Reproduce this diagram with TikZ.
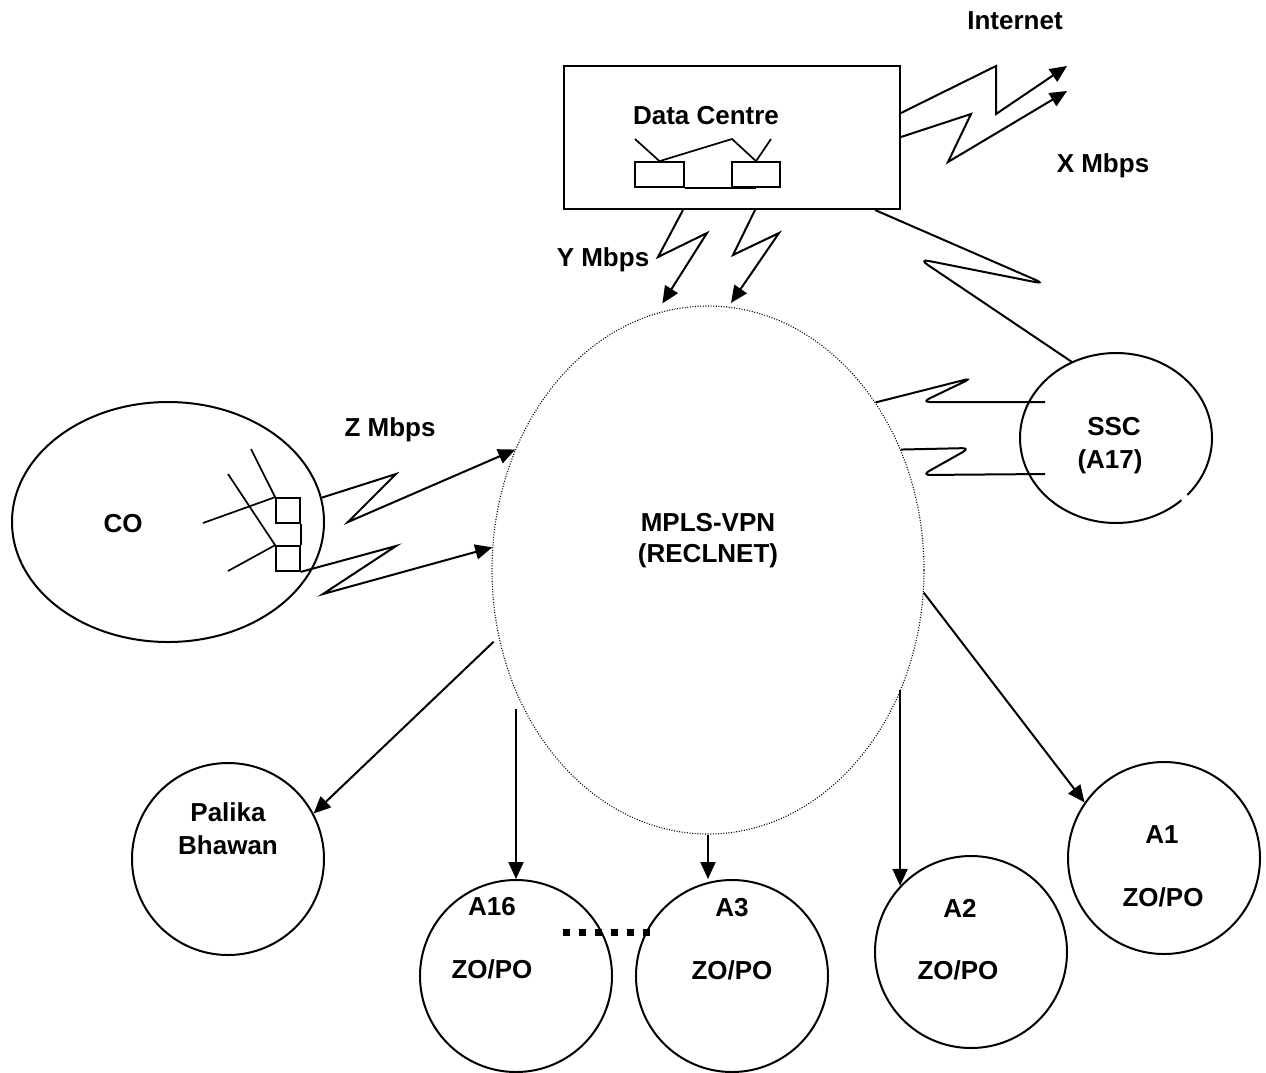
\documentclass[tikz,border=0pt]{standalone}
\usepackage{fontspec}
\setmainfont{Liberation Sans}
\usetikzlibrary{arrows.meta,shapes.geometric}
\begin{document}
\begin{tikzpicture}[x=1pt,y=-1pt,
  lbl/.style={font=\fontsize{26}{30}\selectfont\bfseries, inner sep=0pt},
  ln/.style={line width=2pt, line join=miter},
  thin/.style={line width=1.7pt},
  arr/.style={ln, -{Triangle[length=17pt,width=15pt]}},
  site/.style={circle, draw, line width=2pt, minimum size=192pt, inner sep=0pt},
  cloud/.style={ellipse, draw, dash pattern=on 1pt off 1.6pt, line width=1.1pt, inner sep=0pt},
  box/.style={rectangle, draw, inner sep=0pt}]
\useasboundingbox (0,0) rectangle (1266,1072);

% main shapes
\node[box, line width=2pt, minimum width=336pt, minimum height=143pt] (dc) at (732,137.5) {};
\node[cloud, minimum width=432pt, minimum height=528pt] (mpls) at (708,570) {};
\node[ellipse, draw, line width=2pt, minimum width=312pt, minimum height=240pt, inner sep=0pt] (co) at (168,522) {};
\node[ellipse, minimum width=192pt, minimum height=170pt, inner sep=0pt] (ssc) at (1116,438) {};
\draw[ln] ([shift={(-42:96pt and 85pt)}]ssc.center) arc[start angle=-42, end angle=313, x radius=96pt, y radius=85pt];
\node[site] (pal) at (228,859) {};
\node[site] (a16) at (516,976) {};
\node[site] (a3) at (732,976) {};
\node[site] (a2) at (971,952) {};
\node[site] (a1) at (1164,858) {};

% labels
\node[lbl] (tinet) at (1015,21) {Internet};
\node[lbl] (tx) at (1103,166) {X Mbps};
\node[lbl] (tdc) at (706,116) {Data Centre};
\node[lbl] (ty) at (603,260) {Y Mbps};
\node[lbl] (tz) at (390,430) {Z Mbps};
\node[lbl] (tco) at (123,524) {CO};
\node[lbl] (tm1) at (708,523) {MPLS-VPN};
\node[lbl] (tm2) at (708,556) {(RECLNET)};
\node[lbl] (ts1) at (1114,427) {SSC};
\node[lbl] (ts2) at (1110,462) {(A17)};
\node[lbl] (tp1) at (228,812) {Palika};
\node[lbl] (tp2) at (228,845) {Bhawan};
\node[lbl] (t16a) at (492,907) {A16};
\node[lbl] (t16b) at (492,969) {ZO/PO};
\node[lbl] (t3a) at (732,908) {A3};
\node[lbl] (t3b) at (732,970) {ZO/PO};
\node[lbl] (t2a) at (960,908) {A2};
\node[lbl] (t2b) at (958,970) {ZO/PO};
\node[lbl] (t1a) at (1162,835) {A1};
\node[lbl] (t1b) at (1163,897) {ZO/PO};

% data centre internals
\node[box, thin, minimum width=49pt, minimum height=25pt] (r1) at (659.5,174.5) {};
\node[box, thin, minimum width=48pt, minimum height=25pt] (r2) at (756,174.5) {};
\draw[thin] (635,139) -- (r1.north) -- (732,139) -- (r2.north) -- (771,139);
\draw[thin] (r1.south east) -- (r2.south);

% CO internals
\node[box, thin, minimum width=24pt, minimum height=25pt] (q1) at (288,510.5) {};
\node[box, thin, minimum width=24pt, minimum height=25pt] (q2) at (288,558.5) {};
\draw[thin] (251,449) -- (q1.north west) -- (203,523);
\draw[thin] (228,474) -- (q2.north west) -- (228,571);
\draw[thin] (q1.south east) -- (q2.north east);

% Internet links
\coordinate (i1) at (1067,66);
\coordinate (i2) at (1067,91);
\draw[arr] ([yshift=24.5pt]dc.east) -- (996,66) -- (996,114) -- (i1);
\draw[arr] ([yshift=0.5pt]dc.east) -- (971,114) -- (948,162) -- (i2);

% Y Mbps links
\draw[arr] ([xshift=-49pt]dc.south) -- (658,257) -- (707,233) -- ([yshift=8pt]mpls.100);
\draw[arr] ([xshift=23pt]dc.south) -- (733,255) -- (779,233) -- ([yshift=4pt]mpls.85);

% Z Mbps links
\draw[arr] (co.9) -- (396,474) -- (348,522) -- (mpls.148);
\draw[arr] (q2.south east) -- (396,546) -- (323,594) -- (mpls.174);

% SSC links
\draw[ln, rounded corners=10pt] ([xshift=143pt]dc.south) -- (1045,284) -- (919,259) -- (ssc.120);
\draw[ln, rounded corners=8pt] (mpls.45) -- (972,378) -- (922,402) -- ([shift={(-71pt,36pt)}]ssc.center);
\draw[ln, rounded corners=8pt] (mpls.32) -- (970,448) -- (922,475) -- ([shift={(-71pt,-36pt)}]ssc.center);

% MPLS to sites
\draw[arr] ([xshift=-6pt]mpls.199) -- (pal.28);
\draw[arr] (a16.north |- mpls.217) -- (a16.north);
\draw[arr] (mpls.south) -- (mpls.south |- a3.north);
\draw[arr] (a2.137 |- mpls.-32) -- (a2.137);
\draw[arr] (mpls.-6) -- (a1.145);

% ellipsis between A16 and A3
\draw[line width=7pt, dash pattern=on 7pt off 9pt] (563,932) -- (650,932);
\end{tikzpicture}
\end{document}
